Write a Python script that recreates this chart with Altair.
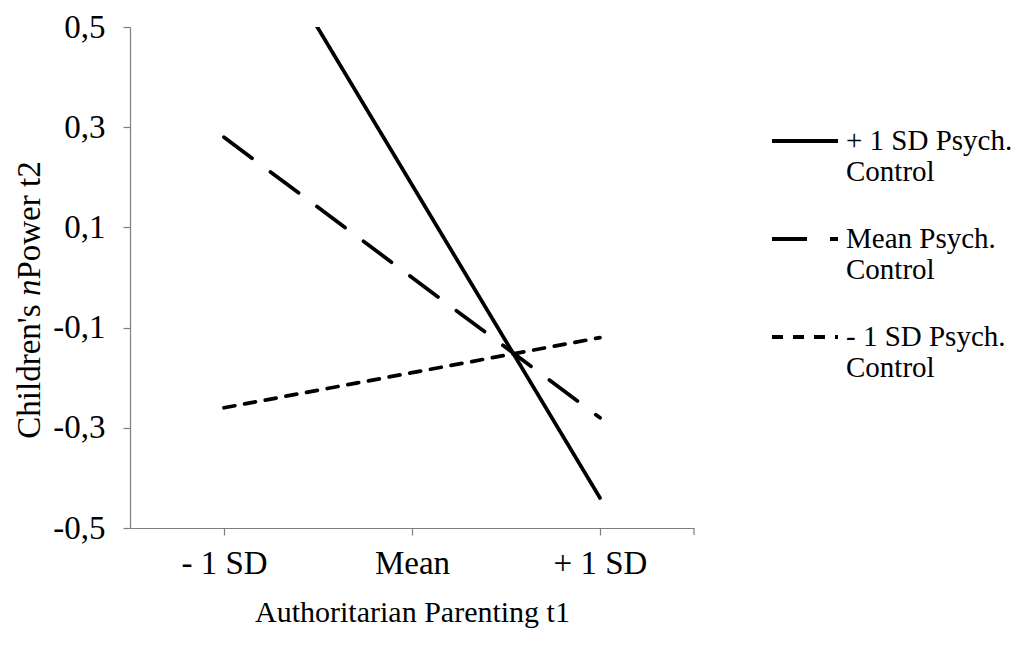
import altair as alt
import pandas as pd

# ---- data ----
x_labels = ["- 1 SD", "Mean", "+ 1 SD"]
series_names = ["+ 1 SD Psych. Control", "Mean Psych. Control", "- 1 SD Psych. Control"]
high_pc = [0.81, 0.185, -0.44]
mean_pc = [0.28, 0.0, -0.28]
low_pc = [-0.26, -0.19, -0.12]
y_ticks = [-0.5, -0.3, -0.1, 0.1, 0.3, 0.5]
x_title = "Authoritarian Parenting t1"
y_title_parts = ["Children's", "n", "Power t2"]

rows = []
for name, vals in zip(series_names, [high_pc, mean_pc, low_pc]):
    for i, (xl, v) in enumerate(zip(x_labels, vals)):
        rows.append({"parenting": xl, "series": name, "value": v, "idx": i})
df = pd.DataFrame(rows)

# ---- layout / style ----
W, H = 564, 501
FONT = "Liberation Serif"
FS = 33
FS_T = 30
FS_YT = 33
GRAY = "#7f7f7f"

lines = alt.Chart(df).mark_line(
    strokeWidth=3.75, strokeCap="round", color="black", clip=True
).encode(
    x=alt.X("parenting:N", sort=x_labels,
            scale=alt.Scale(type="point", padding=0.5),
            axis=alt.Axis(title=x_title, labelAngle=0, labelPadding=12,
                          titlePadding=17)),
    y=alt.Y("value:Q",
            scale=alt.Scale(domain=[-0.5, 0.5], nice=False, zero=False),
            axis=alt.Axis(title=None, values=y_ticks, labelPadding=18,
                          labelExpr="replace(replace(format(datum.value, '.1f'), '.', ','), '\u2212', '-')")),
    strokeDash=alt.StrokeDash(
        "series:N", sort=series_names,
        scale=alt.Scale(domain=series_names, range=[[1, 0], [35, 23], [11, 10]]),
        legend=alt.Legend(
            title=None, orient="none", legendX=640, legendY=79,
            labelExpr="[replace(datum.label, ' Control', ''), 'Control']",
            labelFont=FONT, labelFontSize=29, labelColor="black",
            labelBaseline="middle", labelOffset=6, labelLimit=400,
            symbolType="stroke", symbolSize=4356, symbolStrokeWidth=4,
            symbolStrokeColor="black", rowPadding=17, padding=0,
        ),
    ),
    order=alt.Order("idx:Q"),
)

end_tick = alt.Chart(pd.DataFrame({"k": [0]})).mark_rule(
    color=GRAY, strokeWidth=1.2
).encode(x=alt.value(W), y=alt.value(H), y2=alt.value(H + 7))

# y-axis title built from three text pieces (italic "n")
em = FS_YT
w_children = 4.069 * em
w_space = 0.25 * em
w_n = 0.5 * em
w_power = 3.583 * em
total = w_children + w_space + w_n + w_power
cy = 273
bottom = cy + total / 2
y_child_end = bottom - w_children
y_n_start = y_child_end - w_space
y_power_start = y_n_start - w_n
tx = -100

def title_piece(txt, ypos, align, style):
    return alt.Chart(pd.DataFrame({"t": [txt]})).mark_text(
        angle=270, align=align, baseline="middle", font=FONT,
        fontSize=FS_YT, fontStyle=style, color="black"
    ).encode(text="t:N", x=alt.value(tx), y=alt.value(ypos))

t1 = title_piece(y_title_parts[0], y_child_end, "right", "normal")
t2 = title_piece(y_title_parts[1], y_n_start, "left", "italic")
t3 = title_piece(y_title_parts[2], y_power_start, "left", "normal")

chart = alt.layer(lines, end_tick, t1, t2, t3).properties(
    width=W, height=H, autosize="none",
    padding={"left": 122, "top": 19, "right": 319, "bottom": 110},
).configure(font=FONT).configure_view(stroke=None).configure_axis(
    grid=False, domainColor=GRAY, domainWidth=1.2, tickColor=GRAY,
    tickWidth=1.2, tickSize=7, labelFont=FONT, labelFontSize=FS,
    labelColor="black", titleFont=FONT, titleFontSize=FS_T,
    titleFontWeight="normal", titleColor="black",
)

chart.save("out.html", embed_options={"renderer": "svg", "actions": False})
